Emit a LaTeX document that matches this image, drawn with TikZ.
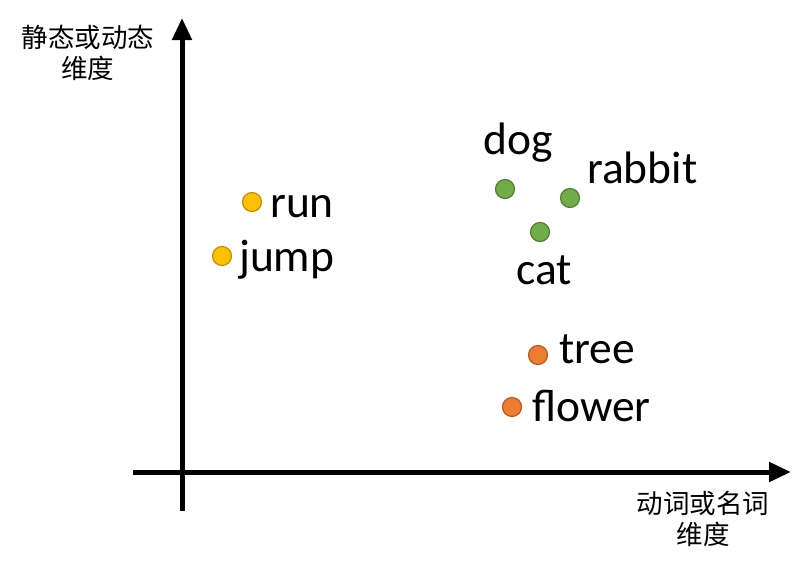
\documentclass[tikz,border=0pt]{standalone}
\usepackage{fontspec}
\setmainfont{Carlito}
\newfontfamily\cjk{Noto Sans CJK SC}
\usetikzlibrary{arrows.meta}

\definecolor{ylwfill}{HTML}{FFC000}
\definecolor{ylwline}{HTML}{BF9000}
\definecolor{grnfill}{HTML}{70AD47}
\definecolor{grnline}{HTML}{507E32}
\definecolor{orgfill}{HTML}{ED7D31}
\definecolor{orgline}{HTML}{AE5A21}

\begin{document}
\begin{tikzpicture}[x=1pt, y=-1pt, line cap=butt,
  axis/.style={line width=5pt, -{Triangle[length=22pt, width=19pt]}},
  dot/.style={circle, minimum size=19pt, inner sep=0pt, line width=1.2pt},
  ylwdot/.style={dot, fill=ylwfill, draw=ylwline},
  grndot/.style={dot, fill=grnfill, draw=grnline},
  orgdot/.style={dot, fill=orgfill, draw=orgline},
  word/.style={anchor=base west, inner sep=0pt, font=\fontsize{45.5}{54}\selectfont},
  axlabel/.style={align=center, inner sep=0pt, font=\cjk\fontsize{26.5}{31}\selectfont}]

  %% ════ 坐标轴 ════
  \coordinate (yfoot) at (182,511);
  \coordinate (ytip)  at (182,18);
  \coordinate (xfoot) at (133,472);
  \coordinate (xtip)  at (791,472);
  \draw[axis] (yfoot) -- (ytip);
  \draw[axis] (xfoot) -- (xtip);

  %% ════ 轴标签 ════
  \node[axlabel] (ylab) at (88,53) {静态或动态\\维度};
  \node[axlabel] (xlab) at (703,519) {动词或名词\\维度};

  %% ════ 实心点 ════
  \node[ylwdot] (run)    at (252,202) {};
  \node[ylwdot] (jump)   at (222,256) {};
  \node[grndot] (dog)    at (505,189) {};
  \node[grndot] (rabbit) at (570,198) {};
  \node[grndot] (cat)    at (540,232) {};
  \node[orgdot] (tree)   at (538,355) {};
  \node[orgdot] (flower) at (512,407) {};

  %% ════ 词标签 ════
  \node[word] (runtxt)    at (270,217) {run};
  \node[word] (jumptxt)   at (239,271) {jump};
  \node[word] (dogtxt)    at (483,154) {dog};
  \node[word] (rabbittxt) at (587,183) {rabbit};
  \node[word] (cattxt)    at (516,284) {cat};
  \node[word] (treetxt)   at (559,363) {tree};
  \node[word] (flowertxt) at (532,421) {flower};

  % 钉死画布
  \pgfresetboundingbox
  \path[use as bounding box] (0,0) rectangle (808,566);
\end{tikzpicture}
\end{document}
